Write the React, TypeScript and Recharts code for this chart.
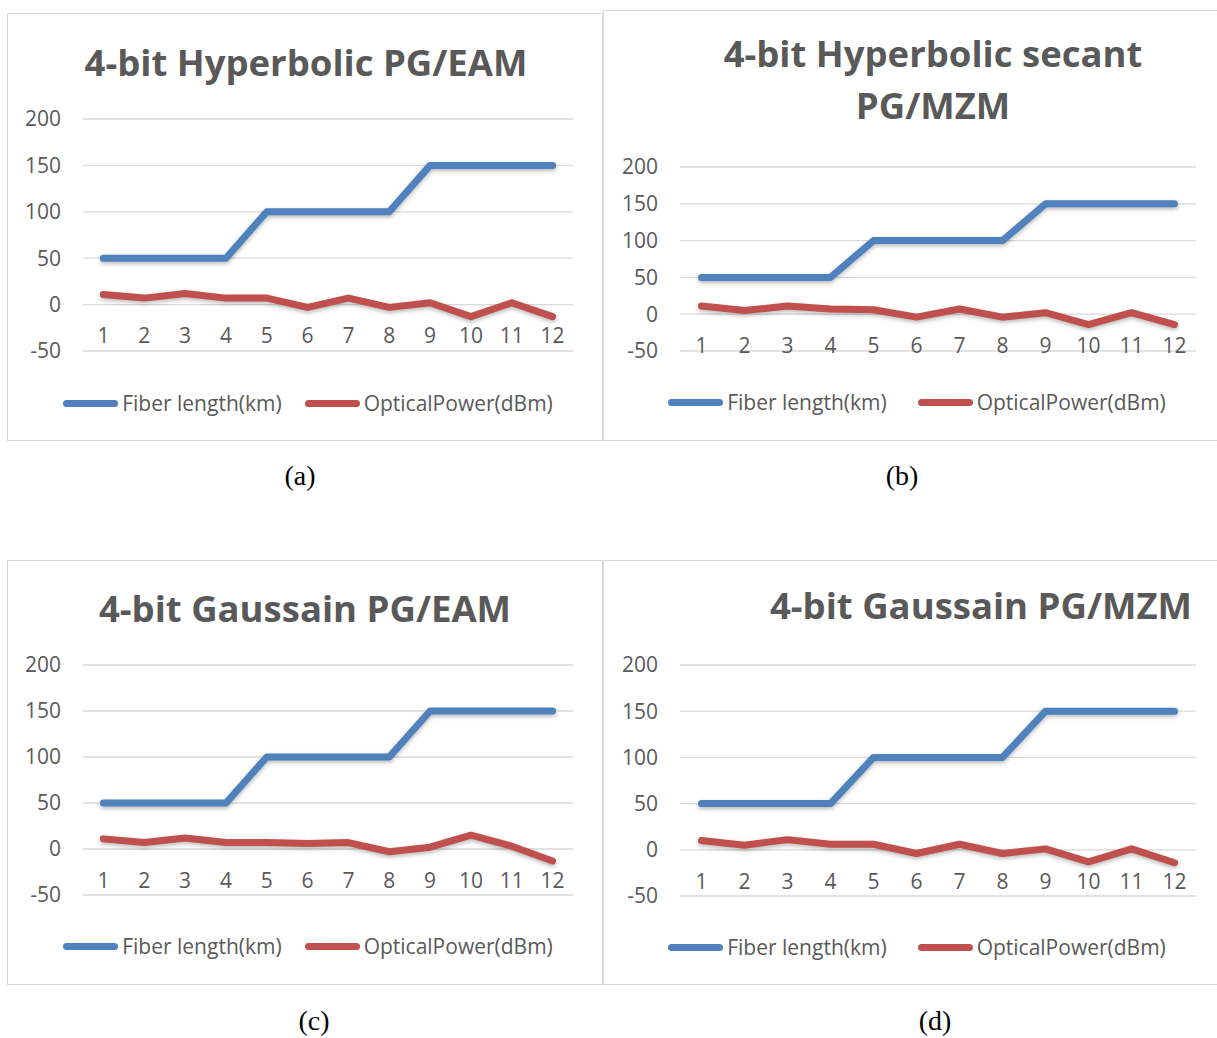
import { LineChart, Line, XAxis, YAxis, CartesianGrid, Legend } from "recharts";

const categories = ["1", "2", "3", "4", "5", "6", "7", "8", "9", "10", "11", "12"];
const fiberLength = [50, 50, 50, 50, 100, 100, 100, 100, 150, 150, 150, 150];
const powerHypEam = [11, 7, 12, 7, 7, -3, 7, -3, 2, -13, 2, -13];
const powerHypMzm = [11, 5, 11, 7, 6, -4, 7, -4, 2, -14, 2, -14];
const powerGaussEam = [11, 7, 12, 7, 7, 6, 7, -3, 2, 15, 3, -13];
const powerGaussMzm = [10, 5, 11, 6, 6, -4, 6, -4, 1, -13, 1, -14];
const yTicks = [-50, 0, 50, 100, 150, 200];

const BLUE = "#4f81bd";
const RED = "#c0504d";
const GREY = "#595959";
const FONT = "'Open Sans', 'Noto Sans', sans-serif";
const YW = 60;
const XH = 30;

const rows = (power: number[]) =>
  categories.map((c, i) => ({ cat: c, fiber: fiberLength[i], power: power[i] }));

const panels = [
  {
    key: "a", caption: "(a)", capX: 300, capY: 478,
    box: { x: 7, y: 13, w: 596, h: 428 },
    plot: { l: 83, t: 119, r: 573, b: 351 },
    title: ["4-bit Hyperbolic PG/EAM"], titleX: 305, titleY: 61,
    legX: 308, legY: 404, legGap: 23,
    data: rows(powerHypEam),
  },
  {
    key: "b", caption: "(b)", capX: 902, capY: 478,
    box: { x: 603, y: 10, w: 620, h: 431 },
    plot: { l: 680, t: 167, r: 1196, b: 351 },
    title: ["4-bit Hyperbolic secant", "PG/MZM"], titleX: 932, titleY: 52,
    legX: 917, legY: 403, legGap: 31,
    data: rows(powerHypMzm),
  },
  {
    key: "c", caption: "(c)", capX: 314, capY: 1023,
    box: { x: 7, y: 560, w: 596, h: 425 },
    plot: { l: 83, t: 665, r: 573, b: 895 },
    title: ["4-bit Gaussain PG/EAM"], titleX: 304, titleY: 607,
    legX: 308, legY: 947, legGap: 23,
    data: rows(powerGaussEam),
  },
  {
    key: "d", caption: "(d)", capX: 935, capY: 1023,
    box: { x: 603, y: 560, w: 620, h: 425 },
    plot: { l: 680, t: 665, r: 1196, b: 896 },
    title: ["4-bit Gaussain PG/MZM"], titleX: 980, titleY: 604,
    legX: 917, legY: 948, legGap: 31,
    data: rows(powerGaussMzm),
  },
];

const LegendBox = ({ gap }: { gap: number }) => {
  const items = [
    { name: "Fiber length(km)", color: BLUE },
    { name: "OpticalPower(dBm)", color: RED },
  ];
  return (
    <div style={{ display: "flex", justifyContent: "center", alignItems: "center", gap }}>
      {items.map((it) => (
        <div key={it.name} style={{ display: "flex", alignItems: "center" }}>
          <div style={{ width: 55, height: 7, borderRadius: 4, background: it.color, marginRight: 4 }} />
          <span style={{ fontFamily: FONT, fontSize: 21, color: GREY, whiteSpace: "nowrap" }}>{it.name}</span>
        </div>
      ))}
    </div>
  );
};

function Panel({ p }: { p: (typeof panels)[number] }) {
  const { box, plot } = p;
  const band = (plot.r - plot.l) / categories.length;
  const step = (plot.b - plot.t) / (yTicks.length - 1);
  // category labels sit just under the zero line, as in Excel
  const lift = 8 + step - 31.5;

  const renderTick = (props: any) => (
    <text x={props.x} y={props.y - lift} dy="0.35em" textAnchor="middle" fill={GREY} fontSize={21} fontFamily={FONT}>
      {props.payload.value}
    </text>
  );

  return (
    <div style={{ position: "absolute", left: box.x, top: box.y, width: box.w, height: box.h, border: "1px solid #d9d9d9", boxSizing: "border-box" }}>
      {p.title.map((line, i) => (
        <div
          key={line}
          style={{
            position: "absolute", left: p.titleX - box.x - 400, width: 800, top: p.titleY - box.y - 26 + i * 52,
            height: 52, lineHeight: "52px", textAlign: "center", fontFamily: FONT, fontWeight: 700, fontSize: 36.5, color: GREY,
          }}
        >
          {line}
        </div>
      ))}
      <LineChart
        width={box.w}
        height={box.h}
        data={p.data}
        style={{ position: "absolute", left: -1, top: -1 }}
        margin={{ top: plot.t - box.y, right: box.x + box.w - plot.r, bottom: box.y + box.h - plot.b - XH, left: plot.l - box.x - YW }}
      >
        <CartesianGrid vertical={false} stroke="#d9d9d9" strokeWidth={1.3} />
        <XAxis dataKey="cat" height={XH} axisLine={false} tickLine={false} interval={0} padding={{ left: band / 2, right: band / 2 }} tick={renderTick} />
        <YAxis
          width={YW} domain={[-50, 200]} ticks={yTicks} interval={0} axisLine={false} tickLine={false} tickMargin={16}
          tick={{ fill: GREY, fontSize: 21, fontFamily: FONT }}
        />
        <Line type="linear" dataKey="fiber" name="Fiber length(km)" stroke={BLUE} strokeWidth={7} dot={false} strokeLinecap="round" strokeLinejoin="round" isAnimationActive={false} />
        <Line type="linear" dataKey="power" name="OpticalPower(dBm)" stroke={RED} strokeWidth={7} dot={false} strokeLinecap="round" strokeLinejoin="round" isAnimationActive={false} />
        <Legend
          verticalAlign="middle"
          align="center"
          content={() => <LegendBox gap={p.legGap} />}
          wrapperStyle={{ left: p.legX - box.x - 400, width: 800, top: p.legY - box.y - 15, height: 30 }}
        />
      </LineChart>
    </div>
  );
}

export default function App() {
  return (
    <div style={{ position: "absolute", left: 0, top: 0, width: 1217, height: 1038, overflow: "hidden", background: "#fff" }}>
      <style>{".recharts-line-curve{filter:drop-shadow(0px 2px 2px rgba(0,0,0,0.28))}"}</style>
      {panels.map((p) => (
        <Panel key={p.key} p={p} />
      ))}
      {panels.map((p) => (
        <div
          key={p.caption}
          style={{ position: "absolute", left: p.capX - 50, width: 100, top: p.capY - 18, height: 31, lineHeight: "31px", textAlign: "center", fontFamily: "'Liberation Serif', serif", fontSize: 28, color: "#000" }}
        >
          {p.caption}
        </div>
      ))}
    </div>
  );
}
